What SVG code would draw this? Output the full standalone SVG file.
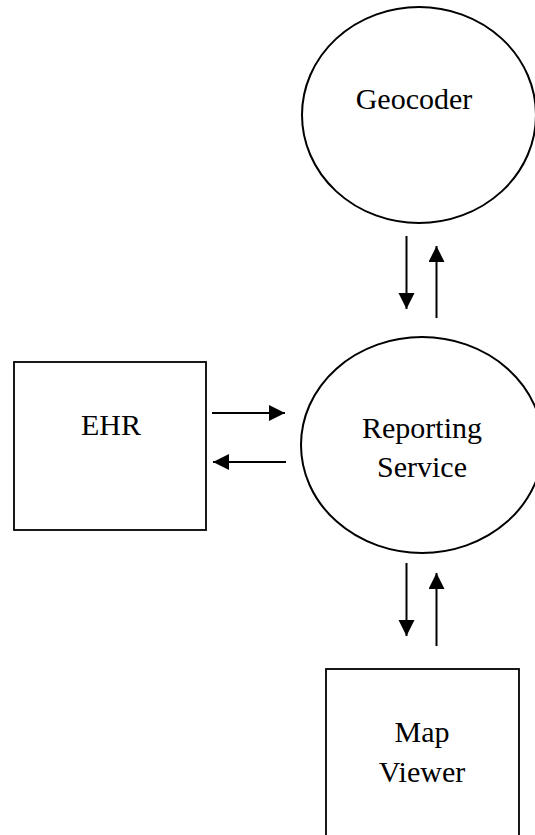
<svg xmlns="http://www.w3.org/2000/svg" width="535" height="835" viewBox="0 0 535 835">
  <style>
    .shape { fill: #ffffff; stroke: #000000; stroke-width: 2; }
    .box { fill: #ffffff; stroke: #000000; stroke-width: 1.8; }
    .label { font-family: "Liberation Serif", "Times New Roman", serif; font-size: 30px; fill: #000000; text-anchor: middle; }
    .flow { stroke: #000000; stroke-width: 2; fill: none; marker-end: url(#head); }
  </style>
  <defs>
    <marker id="head" markerUnits="userSpaceOnUse" markerWidth="18" markerHeight="18" refX="16" refY="8" orient="auto">
      <path d="M0,0 L16,8 L0,16 Z" fill="#000000"/>
    </marker>
  </defs>

  <rect width="535" height="835" fill="#ffffff"/>

  <g id="geocoder">
    <ellipse class="shape" cx="419" cy="115" rx="117" ry="108"/>
    <text class="label" x="414" y="109">Geocoder</text>
  </g>

  <g id="reporting-service">
    <ellipse class="shape" cx="422" cy="445" rx="121" ry="108"/>
    <text class="label" x="422" y="438">Reporting</text>
    <text class="label" x="422" y="477">Service</text>
  </g>

  <g id="ehr">
    <rect class="box" x="14" y="362" width="192" height="168"/>
    <text class="label" x="111" y="435">EHR</text>
  </g>

  <g id="map-viewer">
    <rect class="box" x="326" y="669" width="193" height="180"/>
    <text class="label" x="422" y="742">Map</text>
    <text class="label" x="422" y="782">Viewer</text>
  </g>

  <g id="connectors">
    <!-- Geocoder <-> Reporting Service -->
    <line class="flow" x1="406.5" y1="236" x2="406.5" y2="309"/>
    <line class="flow" x1="436.5" y1="318" x2="436.5" y2="246"/>
    <!-- EHR <-> Reporting Service -->
    <line class="flow" x1="212" y1="413" x2="285" y2="413"/>
    <line class="flow" x1="286" y1="462" x2="213" y2="462"/>
    <!-- Reporting Service <-> Map Viewer -->
    <line class="flow" x1="406.5" y1="563" x2="406.5" y2="636"/>
    <line class="flow" x1="436.5" y1="646" x2="436.5" y2="573"/>
  </g>
</svg>
